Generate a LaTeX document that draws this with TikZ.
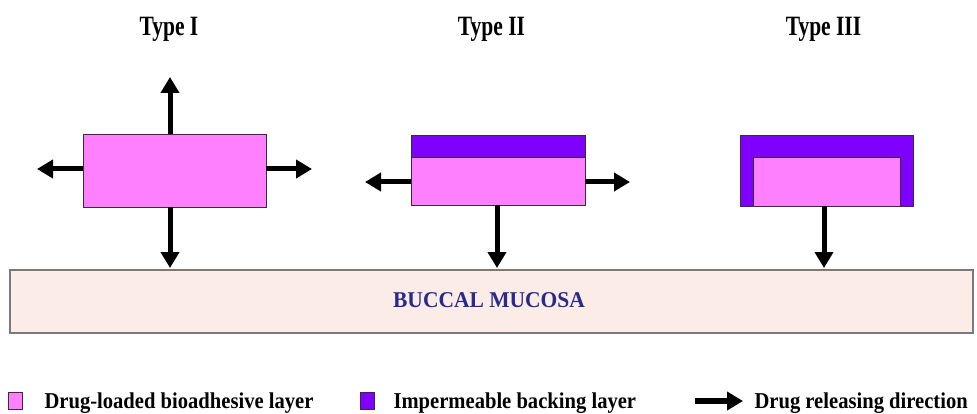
\documentclass[tikz,border=0pt]{standalone}
\usepackage{fontspec}
\setmainfont{Liberation Serif}
\usetikzlibrary{arrows.meta}

\definecolor{layerpink}{HTML}{FF80FF}
\definecolor{backpurple}{HTML}{7F00FF}
\definecolor{mucosafill}{HTML}{FBECE8}
\definecolor{mucosaline}{HTML}{7A7A7A}
\definecolor{mucosatext}{HTML}{2A2A88}
\definecolor{edgegray}{HTML}{3A2A3A}

\newcommand{\tallbox}[2]{\scalebox{1}[#1]{#2}}

\tikzset{
  x=1pt, y=-1pt,
  pinklayer/.style={draw=edgegray, line width=0.8pt, fill=layerpink, inner sep=0pt},
  backing/.style={draw=edgegray, line width=0.8pt, fill=backpurple, inner sep=0pt},
  rel/.style={line width=5pt, -{Triangle[length=16pt,width=18pt]}},
  title/.style={font=\bfseries\fontsize{21.5}{24}\selectfont, anchor=base},
  legtext/.style={font=\bfseries\fontsize{20.6}{24}\selectfont, anchor=base west},
}

\begin{document}
\begin{tikzpicture}
\useasboundingbox (0,0) rectangle (977,414);

% titles
\node[title] (t1) at (169,36) {\tallbox{1.3}{Type I}};
\node[title] (t2) at (491.5,36) {\tallbox{1.3}{Type II}};
\node[title] (t3) at (823.5,36) {\tallbox{1.3}{Type III}};

% buccal mucosa
\node[draw=mucosaline, line width=2pt, fill=mucosafill, minimum width=963pt,
      minimum height=63pt, inner sep=0pt] (muc) at (491.5,301.5) {};
\node[font=\bfseries\fontsize{21.5}{24}\selectfont, text=mucosatext] (muclabel)
      at (489,300) {\tallbox{1.05}{BUCCAL MUCOSA}};

% Type I: bioadhesive layer only, release on all sides
\node[pinklayer, minimum width=183pt, minimum height=73pt] (b1) at (174.5,170.5) {};
\coordinate (u1) at (170,77);
\coordinate (l1) at (37,169);
\coordinate (r1) at (312,169);
\coordinate (d1) at (170,268);
\draw[rel] (b1.north -| u1) -- (u1);
\draw[rel] (b1.west |- l1) -- (l1);
\draw[rel] (b1.east |- r1) -- (r1);
\draw[rel] (b1.south -| d1) -- (d1);

% Type II: backing layer on top
\node[pinklayer, minimum width=174pt, minimum height=48pt] (b2) at (498,181) {};
\node[backing, minimum width=174pt, minimum height=22pt] (k2) at (498,146) {};
\coordinate (l2) at (365,182);
\coordinate (r2) at (630,182);
\coordinate (d2) at (497,268);
\draw[rel] (b2.west |- l2) -- (l2);
\draw[rel] (b2.east |- r2) -- (r2);
\draw[rel] (b2.south -| d2) -- (d2);

% Type III: backing layer around the top and sides
\node[backing, minimum width=173pt, minimum height=71pt] (k3) at (826.5,170.5) {};
\node[pinklayer, minimum width=147pt, minimum height=49pt] (b3) at (826.5,181.5) {};
\coordinate (d3) at (824,268);
\draw[rel] (b3.south -| d3) -- (d3);

% legend
\node[pinklayer, minimum width=14pt, minimum height=17pt] (lg1) at (15,401) {};
\node[legtext] (lt1) at (41,408) {\tallbox{1.1}{Drug-loaded bioadhesive layer}};
\node[backing, minimum width=14pt, minimum height=17pt] (lg2) at (367,401) {};
\node[legtext] (lt2) at (390,408) {\tallbox{1.1}{Impermeable backing layer}};
\coordinate (la1) at (695,401);
\coordinate (la2) at (743,401);
\draw[line width=6pt, -{Triangle[length=16pt,width=18pt]}] (la1) -- (la2);
\node[legtext] (lt3) at (751,408) {\tallbox{1.1}{Drug releasing direction}};
\end{tikzpicture}
\end{document}
